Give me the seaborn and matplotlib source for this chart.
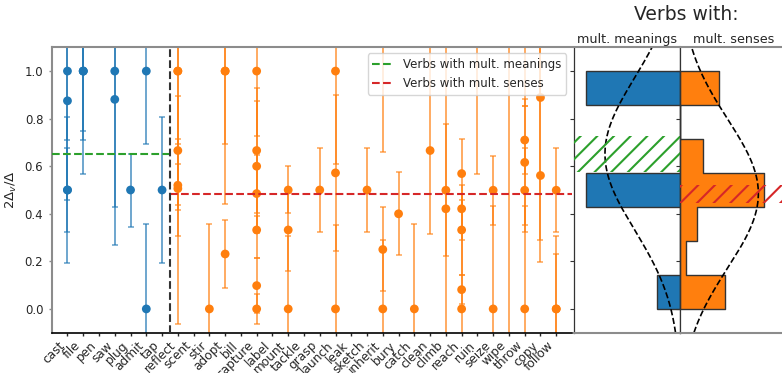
import numpy as np
import pandas as pd
import matplotlib
matplotlib.use("Agg")
import matplotlib.pyplot as plt
import seaborn as sns

# Verbs on the x axis; the first seven have multiple meanings, the rest multiple senses
verbs = ["cast", "file", "pen", "saw", "plug", "admit", "tap",
         "reflect", "scent", "stir", "adopt", "bill", "capture", "label",
         "mount", "tackle", "grasp", "launch", "leak", "sketch", "inherit",
         "bury", "catch", "clean", "climb", "reach", "ruin", "seize", "wipe",
         "throw", "copy", "follow"]
meaning_verbs = verbs[:7]

# One row per estimate: verb, 2Δv/Δ and its interval (nan value = interval only)
nan = np.nan
est_verb = ["cast", "cast", "cast", "cast",
            "file", "file", "file",
            "saw", "saw",
            "plug",
            "admit", "admit",
            "tap",
            "reflect", "reflect", "reflect", "reflect", "reflect",
            "stir",
            "adopt", "adopt", "adopt",
            "capture", "capture", "capture", "capture", "capture", "capture", "capture",
            "mount", "mount", "mount",
            "grasp",
            "launch", "launch", "launch",
            "sketch",
            "inherit", "inherit", "inherit",
            "bury",
            "catch",
            "clean",
            "climb", "climb",
            "reach", "reach", "reach", "reach", "reach",
            "ruin",
            "seize", "seize",
            "wipe",
            "throw", "throw", "throw", "throw", "throw",
            "copy", "copy",
            "follow", "follow", "follow"]
est_value = [1.0, 0.875, 0.5, 0.5,
             1.0, 1.0, 1.0,
             1.0, 0.881,
             0.5,
             1.0, 0.0,
             0.5,
             1.0, 1.0, 0.666, 0.52, 0.506,
             0.0,
             1.0, 1.0, 0.231,
             1.0, 0.666, 0.60, 0.485, 0.332, 0.098, 0.0,
             0.5, 0.332, 0.0,
             0.5,
             1.0, 0.572, 0.0,
             0.5,
             nan, 0.25, 0.0,
             0.40,
             0.0,
             0.666,
             0.499, 0.421,
             0.569, 0.421, 0.332, 0.081, 0.0,
             nan,
             0.499, 0.0,
             nan,
             0.71, 0.616, 0.499, 0.0, nan,
             0.889, 0.561,
             0.499, 0.0, 0.0]
est_low = [0.712, 0.456, 0.194, 0.323,
           0.748, 0.712, 0.567,
           0.429, 0.269,
           0.346,
           0.694, -0.355,
           0.194,
           0.694, -0.062, 0.436, 0.418, 0.306,
           -0.355,
           0.694, 0.44, 0.088,
           0.729, 0.404, 0.326, 0.321, 0.213, -0.017, -0.062,
           0.404, 0.158, -0.306,
           0.323,
           0.61, 0.244, -0.353,
           0.323,
           0.658, 0.074, -0.289,
           0.226,
           -0.355,
           0.313,
           0.222, -0.5,
           0.423, 0.289, 0.142, 0.021, -0.456,
           0.567,
           0.353, -0.433,
           -0.5,
           0.568, 0.353, 0.323, -0.433, 0.853,
           0.196, 0.288,
           0.323, -0.306, -0.229]
est_high = [1.29, 1.29, 0.806, 0.677,
            1.25, 1.29, 1.43,
            1.57, 1.49,
            0.652,
            1.31, 0.355,
            0.806,
            1.31, 2.06, 0.895, 0.611, 0.715,
            0.355,
            1.31, 1.56, 0.374,
            1.27, 0.93, 0.874, 0.649, 0.39, 0.213, 0.062,
            0.602, 0.506, 0.306,
            0.677,
            1.39, 0.899, 0.353,
            0.677,
            1.5, 0.428, 0.289,
            0.574,
            0.355,
            1.3,
            0.777, 1.5,
            0.715, 0.485, 0.523, 0.142, 0.456,
            1.5,
            0.645, 0.433,
            1.5,
            0.853, 0.881, 0.677, 0.433, 1.5,
            1.58, 1.3,
            0.677, 0.306, 0.229]

# Group means and their bands
meanings_mean = 0.652
senses_mean = 0.485
meanings_band = (0.575, 0.727)
senses_band = (0.446, 0.523)

# Histograms of 2Δv/Δ in seven bins over [0, 1]
meanings_counts = [1, 0, 0, 4, 0, 0, 4]
senses_counts = [8, 1, 3, 15, 4, 0, 7]

# Fitted normal curves (mean, sd, peak density)
meanings_fit = (0.652, 0.32, 2.48)
senses_fit = (0.485, 0.313, 2.57)

blue, orange = "#1f77b4", "#ff7f0e"
green, red = "#2ca02c", "#d62728"

sns.set_theme(style="ticks")
plt.rcParams["font.family"] = ["DejaVu Sans"]
plt.rcParams["hatch.linewidth"] = 1.5
plt.rcParams["axes.labelcolor"] = "0.15"
plt.rcParams["xtick.color"] = "0.15"
plt.rcParams["ytick.color"] = "0.15"

W, H = 782, 373
fig = plt.figure(figsize=(W / 100, H / 100), dpi=100)

top, bottom = 47.3, 332.7
ax = fig.add_axes([51.7 / W, 1 - bottom / H, (572 - 51.7) / W, (bottom - top) / H])
axm = fig.add_axes([574 / W, 1 - bottom / H, 106.3 / W, (bottom - top) / H])
axs = fig.add_axes([680.3 / W, 1 - bottom / H, 106.3 / W, (bottom - top) / H])

# ---- main panel: estimates with intervals ----
df = pd.DataFrame(dict(verb=est_verb, value=est_value, low=est_low, high=est_high))
df["pos"] = df["verb"].map({v: i for i, v in enumerate(verbs)})
df["group"] = np.where(df["verb"].isin(meaning_verbs), "meanings", "senses")
palette = {"meanings": blue, "senses": orange}

for g, sub in df.groupby("group"):
    ax.errorbar(sub["pos"].to_numpy(), sub["low"].to_numpy(),
                yerr=[np.zeros(len(sub)), (sub["high"] - sub["low"]).to_numpy()],
                fmt="none", ecolor=palette[g], elinewidth=1.4, capsize=2,
                capthick=1.2, alpha=0.65, zorder=2)

sns.scatterplot(data=df.dropna(subset=["value"]), x="pos", y="value",
                hue="group", palette=palette, s=40, linewidth=0,
                legend=False, ax=ax, zorder=3)

ax.plot([-1, 6.5], [meanings_mean] * 2, ls="--", color=green, lw=1.5,
        label="Verbs with mult. meanings", zorder=4)
ax.plot([6.5, 32], [senses_mean] * 2, ls="--", color=red, lw=1.5,
        label="Verbs with mult. senses", zorder=4)
ax.axvline(6.5, color="0.2", ls="--", lw=1.5, zorder=4)

ax.set_xlim(-1, 32)
ax.set_ylim(-0.1, 1.1)
ax.set_xticks(range(len(verbs)))
ax.set_xticklabels(verbs, rotation=45, ha="right", fontsize=8.7)
ax.set_yticks(np.arange(0, 1.01, 0.2))
ax.set_yticklabels([f"{t:.1f}" for t in np.arange(0, 1.01, 0.2)], fontsize=8.5)
ax.set_xlabel("")
ax.set_ylabel(r"$2\Delta_v/\Delta$", fontsize=9.5, labelpad=4)
ax.tick_params(axis="x", length=2.5, width=1, color="0.15", pad=2)
ax.tick_params(axis="y", length=2.5, width=1, color="0.55", pad=3.5)
for s in ("top", "left"):
    ax.spines[s].set_visible(True)
    ax.spines[s].set_color("0.55")
    ax.spines[s].set_linewidth(1.5)
ax.spines["bottom"].set_color("black")
ax.spines["bottom"].set_linewidth(1.2)
ax.spines["right"].set_visible(False)

leg = ax.legend(loc="upper right", fontsize=8.5, frameon=True, fancybox=True,
                framealpha=0.8, edgecolor="0.8", handlelength=1.8)

# ---- side panels: histograms with fitted curves ----
bin_edges = np.linspace(0, 1, 8)
centers = (bin_edges[:-1] + bin_edges[1:]) / 2
yy = np.linspace(-0.1, 1.1, 300)
hist_m = pd.DataFrame({"value": centers, "count": meanings_counts})
hist_s = pd.DataFrame({"value": centers, "count": senses_counts})

sns.histplot(data=hist_m, y="value", weights="count", bins=7, binrange=(0, 1),
             stat="density", element="bars", color=blue, alpha=1,
             edgecolor="0.2", linewidth=1, ax=axm)
m, sd, pk = meanings_fit
axm.plot(pk * np.exp(-0.5 * ((yy - m) / sd) ** 2), yy, ls="--", color="black", lw=1.2)
axm.axhspan(*meanings_band, facecolor="none", edgecolor=green, hatch="//",
            linewidth=0, zorder=5)
axm.set_xlim(3.5, 0)

sns.histplot(data=hist_s, y="value", weights="count", bins=7, binrange=(0, 1),
             stat="density", element="step", fill=True, color=orange, alpha=1,
             edgecolor="0.2", linewidth=1, ax=axs)
m, sd, pk = senses_fit
axs.plot(pk * np.exp(-0.5 * ((yy - m) / sd) ** 2), yy, ls="--", color="black", lw=1.2)
axs.axhspan(*senses_band, facecolor="none", edgecolor=red, hatch="//",
            linewidth=0, zorder=5)
axs.set_xlim(0, 3.5)

for a, title in ((axm, "mult. meanings"), (axs, "mult. senses")):
    a.set_ylim(-0.1, 1.1)
    a.set_yticks(np.arange(0, 1.01, 0.2))
    a.set_yticklabels([])
    a.set_xticks([])
    a.set_xlabel("")
    a.set_ylabel("")
    a.tick_params(axis="y", length=3, width=0.8, color="0.2")
    a.set_title(title, fontsize=9.2, pad=3, color="0.15")
    for s in ("top", "bottom"):
        a.spines[s].set_visible(True)
        a.spines[s].set_color("0.55")
        a.spines[s].set_linewidth(1.5)
    for s in ("left", "right"):
        a.spines[s].set_visible(True)
        a.spines[s].set_color("0.2")
        a.spines[s].set_linewidth(0.9)

fig.text(686 / W, 1 - 15 / H, "Verbs with:", fontsize=13.5, ha="center",
         va="center", color="0.15")

fig.savefig("out.png", dpi=100)
